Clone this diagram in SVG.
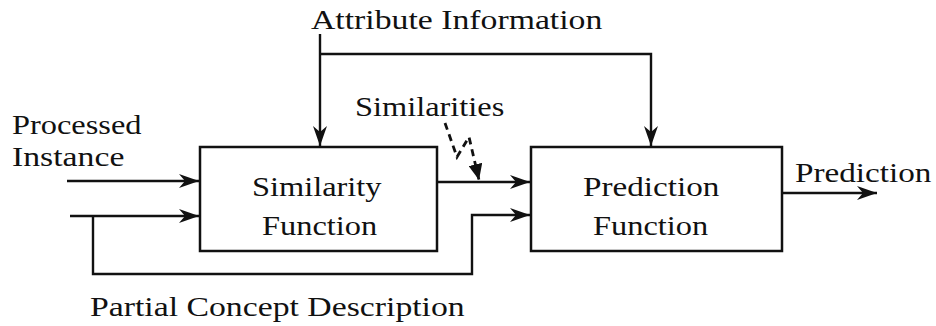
<svg xmlns="http://www.w3.org/2000/svg" width="936" height="326" viewBox="0 0 936 326">
  <style>
    .box { fill: #fff; stroke: #111; stroke-width: 2.5; }
    .wire { fill: none; stroke: #111; stroke-width: 2.4; stroke-linejoin: miter; }
    .dash { fill: none; stroke: #111; stroke-width: 2.8; stroke-dasharray: 7 5; }
  </style>
  <defs>
    <marker id="arrow" markerUnits="userSpaceOnUse" markerWidth="22" markerHeight="14" refX="20" refY="7" orient="auto">
      <path d="M0,0 L20,7 L0,14 L6,7 z" fill="#111"/>
    </marker>
    <marker id="tri" markerUnits="userSpaceOnUse" markerWidth="18" markerHeight="14" refX="16" refY="7" orient="auto">
      <path d="M0,0 L16,7 L0,14 z" fill="#111"/>
    </marker>
  </defs>

  <!-- free labels (widened serif face) -->
  <g id="labels" fill="#111">
    <text font-family="Liberation Serif" font-size="27" transform="translate(311,29) scale(1.25,1)">Attribute Information</text>
    <text font-family="Liberation Serif" font-size="27" transform="translate(12,134) scale(1.2,1)">Processed</text>
    <text font-family="Liberation Serif" font-size="27" transform="translate(12,166) scale(1.25,1)">Instance</text>
    <text font-family="Liberation Serif" font-size="27" transform="translate(355,116) scale(1.2,1)">Similarities</text>
    <text font-family="Liberation Serif" font-size="27" transform="translate(795,182) scale(1.23,1)">Prediction</text>
    <text font-family="Liberation Serif" font-size="27" transform="translate(90,316) scale(1.25,1)">Partial Concept Description</text>
  </g>

  <!-- processing blocks -->
  <g id="similarity-function" fill="#111">
    <rect class="box" x="200" y="147" width="237" height="104"/>
    <text font-family="Liberation Serif" font-size="27" transform="translate(252,196) scale(1.2,1)">Similarity</text>
    <text font-family="Liberation Serif" font-size="27" transform="translate(262,235) scale(1.2,1)">Function</text>
  </g>
  <g id="prediction-function" fill="#111">
    <rect class="box" x="531" y="147" width="251" height="104"/>
    <text font-family="Liberation Serif" font-size="27" transform="translate(583,196) scale(1.23,1)">Prediction</text>
    <text font-family="Liberation Serif" font-size="27" transform="translate(593,235) scale(1.2,1)">Function</text>
  </g>

  <!-- connectors -->
  <g id="connectors">
    <!-- attribute information feeds both blocks -->
    <path class="wire" d="M320,34 V146" marker-end="url(#arrow)"/>
    <path class="wire" d="M320,54 H651 V146" marker-end="url(#arrow)"/>
    <!-- processed instance -->
    <path class="wire" d="M67,181 H199" marker-end="url(#arrow)"/>
    <!-- partial concept description -->
    <path class="wire" d="M70,216 H199" marker-end="url(#arrow)"/>
    <path class="wire" d="M93,216 V274 H472 V215 H530" marker-end="url(#arrow)"/>
    <!-- similarities -->
    <path class="wire" d="M437,182 H530" marker-end="url(#arrow)"/>
    <path class="dash" d="M445,123 L457,157 L469,137 L479,180" marker-end="url(#tri)"/>
    <!-- prediction output -->
    <path class="wire" d="M782,193 H877" marker-end="url(#arrow)"/>
  </g>
</svg>
